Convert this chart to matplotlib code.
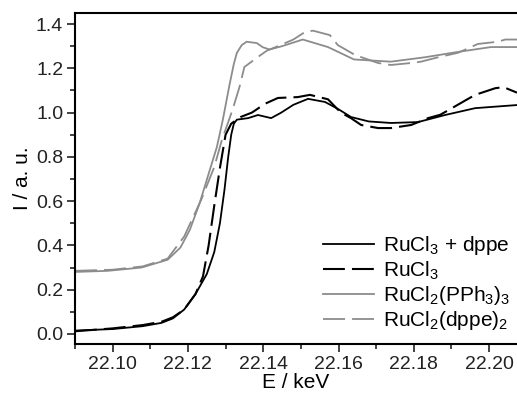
import matplotlib
matplotlib.use("Agg")
import matplotlib.pyplot as plt
from matplotlib.ticker import MultipleLocator, FormatStrFormatter

plt.rcParams['font.family'] = ['Liberation Sans', 'DejaVu Sans']
plt.rcParams['mathtext.fontset'] = 'custom'
plt.rcParams['mathtext.rm'] = 'Liberation Sans'

# RuCl3 + dppe (black solid)
e_dppe = [22.09, 22.10, 22.108, 22.113, 22.116, 22.119, 22.122, 22.125, 22.127,
          22.1285, 22.1297, 22.1307, 22.1315, 22.1322, 22.133, 22.136, 22.1386, 22.1421,
          22.1447, 22.148, 22.1519, 22.1564, 22.1600, 22.1633, 22.168, 22.1739, 22.1811,
          22.1883, 22.1963, 22.2074]
i_dppe = [0.015, 0.022, 0.035, 0.05, 0.07, 0.11, 0.18, 0.27, 0.37,
          0.50, 0.65, 0.80, 0.90, 0.95, 0.968, 0.975, 0.989, 0.975,
          0.999, 1.035, 1.062, 1.048, 1.015, 0.98, 0.96, 0.953, 0.957,
          0.989, 1.02, 1.034]

# RuCl3 (black dashed)
e_rucl3 = [22.09, 22.10, 22.108, 22.113, 22.116, 22.119, 22.122, 22.124, 22.1255,
           22.127, 22.1285, 22.130, 22.1315, 22.134, 22.137, 22.1405, 22.1439,
           22.1492, 22.1524, 22.1572, 22.1606, 22.1633, 22.166, 22.1705, 22.1739,
           22.1793, 22.1838, 22.187, 22.1891, 22.1939, 22.1963, 22.2016, 22.2038, 22.2074]
i_rucl3 = [0.012, 0.025, 0.04, 0.055, 0.075, 0.11, 0.18, 0.26, 0.40,
           0.58, 0.75, 0.90, 0.95, 0.98, 1.00, 1.04, 1.066,
           1.07, 1.08, 1.06, 1.00, 0.975, 0.944, 0.93, 0.93,
           0.944, 0.975, 0.99, 1.01, 1.057, 1.08, 1.11, 1.115, 1.09]

# RuCl2(PPh3)3 (grey solid)
e_pph3 = [22.09, 22.0987, 22.1077, 22.1146, 22.118, 22.1205, 22.1231, 22.1258,
          22.1277, 22.1293, 22.1311, 22.1322, 22.133, 22.1343, 22.1356, 22.1383,
          22.1399, 22.1417, 22.145, 22.1505, 22.1572, 22.1641, 22.1739, 22.183,
          22.1917, 22.2005, 22.2074]
i_pph3 = [0.28, 0.285, 0.30, 0.335, 0.39, 0.47, 0.59, 0.74,
          0.845, 0.97, 1.13, 1.22, 1.27, 1.305, 1.32, 1.314,
          1.295, 1.285, 1.30, 1.33, 1.296, 1.24, 1.23, 1.25,
          1.274, 1.296, 1.296]

# RuCl2(dppe)2 (grey dashed)
e_dppe2 = [22.09, 22.10, 22.108, 22.1146, 22.119, 22.1235, 22.127, 22.129,
           22.1318, 22.1337, 22.135, 22.1385, 22.141, 22.1439, 22.148, 22.1511,
           22.1532, 22.1577, 22.1598, 22.1644, 22.1705, 22.1739, 22.1793, 22.1819,
           22.1865, 22.1917, 22.1944, 22.197, 22.2023, 22.2043, 22.2074]
i_dppe2 = [0.285, 0.29, 0.305, 0.34, 0.44, 0.605, 0.754, 0.875,
           1.01, 1.116, 1.206, 1.25, 1.28, 1.30, 1.33, 1.364,
           1.37, 1.35, 1.305, 1.26, 1.224, 1.215, 1.224, 1.23,
           1.25, 1.27, 1.29, 1.31, 1.32, 1.33, 1.33]

labels = [r'RuCl$_3$ + dppe', r'RuCl$_3$', r'RuCl$_2$(PPh$_3$)$_3$', r'RuCl$_2$(dppe)$_2$']

fig = plt.figure(figsize=(5.17, 3.93), dpi=100)
ax = fig.add_axes([0.145, 0.125, 0.855, 0.842])

grey = '#8c8c8c'
ax.plot(e_dppe, i_dppe, color='black', lw=1.3, label=labels[0])
ax.plot(e_rucl3, i_rucl3, color='black', lw=1.5, linestyle=(0, (10.5, 3.4)), label=labels[1])
ax.plot(e_pph3, i_pph3, color=grey, lw=1.3, label=labels[2])
ax.plot(e_dppe2, i_dppe2, color=grey, lw=1.3, linestyle=(0, (12.2, 3.9)), label=labels[3])

ax.set_xlim(22.09, 22.2074)
ax.set_ylim(-0.045, 1.45)
ax.xaxis.set_major_locator(MultipleLocator(0.02))
ax.xaxis.set_minor_locator(MultipleLocator(0.01))
ax.yaxis.set_major_locator(MultipleLocator(0.2))
ax.yaxis.set_minor_locator(MultipleLocator(0.1))
ax.xaxis.set_major_formatter(FormatStrFormatter('%.2f'))
ax.yaxis.set_major_formatter(FormatStrFormatter('%.1f'))
ax.tick_params(which='both', direction='out', top=False, right=False, labelsize=14,
               width=1.2, colors='#222222', pad=2.5)
ax.tick_params(which='major', length=6)
ax.tick_params(which='minor', length=3.5)
for s in ['left', 'bottom', 'top']:
    ax.spines[s].set_linewidth(1.5)
ax.spines['right'].set_visible(False)

ax.set_xlabel('E / keV', fontsize=15, labelpad=0)
ax.set_ylabel('I / a. u.', fontsize=15, labelpad=3)

leg = ax.legend(loc='lower right', frameon=False, fontsize=15, handlelength=2.45,
                handletextpad=0.45, labelspacing=0.1, borderaxespad=0.0,
                borderpad=0.0, bbox_to_anchor=(0.985, 0.035))

fig.savefig('out.png', dpi=100)
